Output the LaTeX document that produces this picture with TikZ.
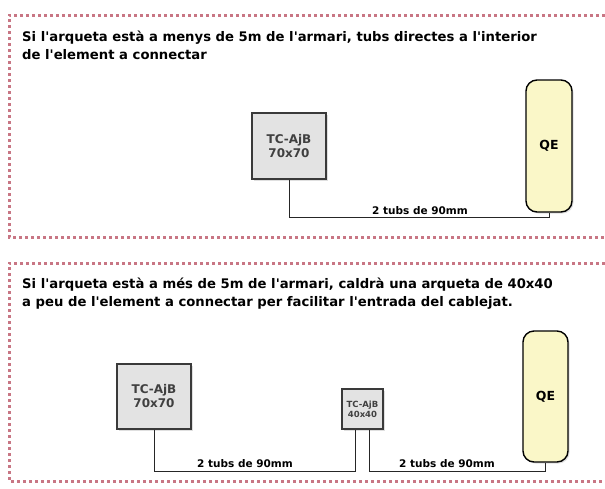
\documentclass[tikz,border=0pt]{standalone}
\usepackage{fontspec}
\setmainfont{DejaVu Sans}
\newcommand{\ap}{\textquotesingle}
\definecolor{framered}{HTML}{C87684}
\definecolor{boxfill}{HTML}{E3E3E3}
\definecolor{boxline}{HTML}{3A3A3A}
\definecolor{boxtext}{HTML}{404040}
\definecolor{qeyellow}{HTML}{FAF7C8}
\usetikzlibrary{
  positioning,
  calc,
  shadows
}

\begin{document}
\begin{tikzpicture}[
  x=1pt, y=-1pt,
  frame/.style={
    draw=framered, line width=3pt, dash pattern=on 3pt off 3pt
  },
  tcbox/.style={
    rectangle, draw=boxline, line width=1.3pt, fill=boxfill,
    text=boxtext, align=center, inner sep=0pt,
    font=\bfseries\fontsize{12}{14}\selectfont,
    drop shadow={opacity=0.25, shadow xshift=1.5pt, shadow yshift=-1.5pt}
  },
  qebox/.style={
    rectangle, rounded corners=11pt, draw=black, line width=1.4pt,
    fill=qeyellow, inner sep=0pt,
    font=\bfseries\fontsize{12.5}{14}\selectfont,
    drop shadow={opacity=0.25, shadow xshift=1.5pt, shadow yshift=-1.5pt}
  },
  tube/.style={draw=black!85, line width=1pt},
  tubelbl/.style={anchor=south, inner sep=1pt, font=\bfseries\fontsize{10.5}{13}\selectfont},
  heading/.style={anchor=north west, align=left, inner sep=0pt,
    font=\bfseries\fontsize{13.2}{17.5}\selectfont}
]
\useasboundingbox (0,0) rectangle (605,488);

% upper case: short distance
\draw[frame] (605,15) -- (9,15) -- (9,237) -- (605,237);
\node[heading] (headA) at (22,31)
  {Si l\ap arqueta està a menys de 5m de l\ap armari, tubs directes a l\ap interior\\
   de l\ap element a connectar};

\node[tcbox, minimum width=74pt, minimum height=66pt] (tcA) at (289,146)
  {TC-AjB\\70x70};
\node[qebox, minimum width=46pt, minimum height=132pt] (qeA) at (549,146) {QE};

\draw[tube] (tcA.south) |- ([yshift=-5pt]qeA.south) -- (qeA.south);
\node[tubelbl] (tubesA) at (420,216) {2 tubs de 90mm};

% lower case: long distance, extra 40x40 box
\draw[frame] (605,263) -- (9,263) -- (9,481) -- (605,481);
\node[heading] (headB) at (22,278)
  {Si l\ap arqueta està a més de 5m de l\ap armari, caldrà una arqueta de 40x40\\
   a peu de l\ap element a connectar per facilitar l\ap entrada del cablejat.};

\node[tcbox, minimum width=74pt, minimum height=65pt] (tcB) at (154,396.5)
  {TC-AjB\\70x70};
\node[tcbox, minimum width=41pt, minimum height=40pt,
  font=\bfseries\fontsize{8.5}{10}\selectfont] (tcsmall) at (362.5,409)
  {TC-AjB\\40x40};
\node[qebox, minimum width=45pt, minimum height=131pt] (qeB) at (545.5,396.5) {QE};

\draw[tube] (tcB.south) |- ($(tcsmall.south)+(-7,42)$)
  -- ([xshift=-7pt]tcsmall.south);
\draw[tube] ([xshift=7pt]tcsmall.south) |- ([yshift=-9pt]qeB.south)
  -- (qeB.south);
\node[tubelbl] (tubesB1) at (245,469) {2 tubs de 90mm};
\node[tubelbl] (tubesB2) at (447,469) {2 tubs de 90mm};

\end{tikzpicture}
\end{document}
